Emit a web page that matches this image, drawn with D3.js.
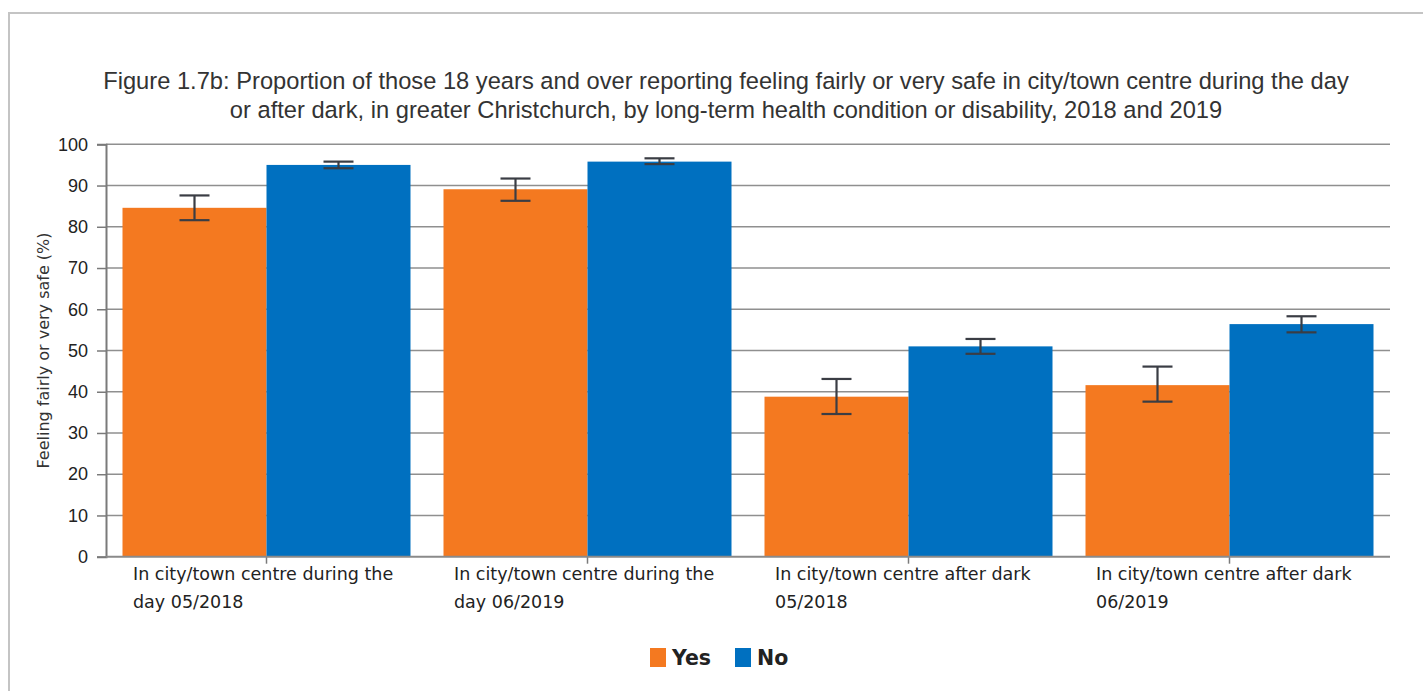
<!DOCTYPE html>
<html lang="en">
<head>
<meta charset="UTF-8">
<title>Figure 1.7b</title>
<script src="https://d3js.org/d3.v7.min.js"></script>
<style>
  body { margin: 0; background: #fff; }
  svg { display: block; }
</style>
</head>
<body>
<svg id="chart" width="1423" height="691"></svg>
<script>
// data
const categories = [
  ["In city/town centre during the", "day 05/2018"],
  ["In city/town centre during the", "day 06/2019"],
  ["In city/town centre after dark", "05/2018"],
  ["In city/town centre after dark", "06/2019"]
];
const seriesNames = ["Yes", "No"];
const yesValues = [84.6, 89.1, 38.8, 41.6];
const yesLow = [81.6, 86.3, 34.6, 37.6];
const yesHigh = [87.6, 91.7, 43.1, 46.1];
const noValues = [95.0, 95.8, 51.0, 56.4];
const noLow = [94.2, 95.2, 49.2, 54.4];
const noHigh = [95.8, 96.6, 52.8, 58.3];
const yTicks = [0, 10, 20, 30, 40, 50, 60, 70, 80, 90, 100];
const colors = ["#f47920", "#0070c0"];

const svg = d3.select("#chart");

// outer frame
svg.append("rect")
  .attr("x", 9).attr("y", 13)
  .attr("width", 1430).attr("height", 700)
  .attr("fill", "none").attr("stroke", "#c4c4c4").attr("stroke-width", 2);

const plotLeft = 106, plotRight = 1390, plotTop = 144.3, plotBottom = 556.7;

const x0 = d3.scaleBand().domain(d3.range(categories.length)).range([plotLeft, plotRight]);
const x1 = d3.scaleBand().domain([0, 1]).range([16.5, x0.bandwidth() - 16.5]);
const y = d3.scaleLinear().domain([0, 100]).range([plotBottom, plotTop]);

// title
const title = svg.append("text")
  .attr("text-anchor", "middle")
  .attr("font-family", "Liberation Sans, Arial, sans-serif")
  .attr("font-size", 23.7)
  .attr("fill", "#333");
title.append("tspan").attr("x", 726).attr("y", 89)
  .text("Figure 1.7b: Proportion of those 18 years and over reporting feeling fairly or very safe in city/town centre during the day");
title.append("tspan").attr("x", 726).attr("y", 118)
  .text("or after dark, in greater Christchurch, by long-term health condition or disability, 2018 and 2019");

// gridlines
svg.append("g")
  .selectAll("line")
  .data(yTicks.filter(d => d > 0))
  .join("line")
  .attr("x1", plotLeft).attr("x2", plotRight)
  .attr("y1", d => y(d)).attr("y2", d => y(d))
  .attr("stroke", "#8f8f8f").attr("stroke-width", 1.5);

// y axis
const yAxis = svg.append("g")
  .attr("transform", `translate(${plotLeft},0)`)
  .call(d3.axisLeft(y).tickValues(yTicks).tickSize(9).tickPadding(9));
yAxis.select(".domain").attr("stroke", "#7a7a7a").attr("stroke-width", 2);
yAxis.selectAll(".tick line").attr("stroke", "#7a7a7a").attr("stroke-width", 1.5);
yAxis.selectAll("text")
  .attr("font-family", "Liberation Sans, Arial, sans-serif")
  .attr("font-size", 18)
  .attr("fill", "#222");

svg.append("text")
  .attr("transform", `translate(49,${(plotTop + plotBottom) / 2}) rotate(-90)`)
  .attr("text-anchor", "middle")
  .attr("font-family", "DejaVu Sans, Verdana, sans-serif")
  .attr("font-size", 16)
  .attr("fill", "#333")
  .text("Feeling fairly or very safe (%)");

// bars
const series = [
  { vals: yesValues, lo: yesLow, hi: yesHigh },
  { vals: noValues, lo: noLow, hi: noHigh }
];
const groups = svg.append("g")
  .selectAll("g")
  .data(categories.map((c, i) => i))
  .join("g")
  .attr("transform", i => `translate(${x0(i)},0)`);

series.forEach((s, si) => {
  groups.append("rect")
    .attr("x", x1(si))
    .attr("width", x1.bandwidth())
    .attr("y", i => y(s.vals[i]))
    .attr("height", i => plotBottom - y(s.vals[i]))
    .attr("fill", colors[si]);
});

// x axis line + ticks
svg.append("line")
  .attr("x1", plotLeft).attr("x2", plotRight)
  .attr("y1", plotBottom).attr("y2", plotBottom)
  .attr("stroke", "#8a8a8a").attr("stroke-width", 2);
groups.append("line")
  .attr("x1", x0.bandwidth() / 2).attr("x2", x0.bandwidth() / 2)
  .attr("y1", plotBottom).attr("y2", plotBottom + 7)
  .attr("stroke", "#7a7a7a").attr("stroke-width", 1.5);

// error bars
series.forEach((s, si) => {
  const cx = x1(si) + x1.bandwidth() / 2;
  const eb = groups.append("g").attr("stroke", "#3a3d44").attr("stroke-width", 2.2);
  eb.append("line")
    .attr("x1", cx).attr("x2", cx)
    .attr("y1", i => y(s.hi[i])).attr("y2", i => y(s.lo[i]));
  eb.append("line")
    .attr("x1", cx - 15).attr("x2", cx + 15)
    .attr("y1", i => y(s.hi[i])).attr("y2", i => y(s.hi[i]));
  eb.append("line")
    .attr("x1", cx - 15).attr("x2", cx + 15)
    .attr("y1", i => y(s.lo[i])).attr("y2", i => y(s.lo[i]));
});

// category labels
groups.append("text")
  .attr("font-family", "DejaVu Sans, Verdana, sans-serif")
  .attr("font-size", 17.5)
  .attr("fill", "#222")
  .selectAll("tspan")
  .data(i => categories[i])
  .join("tspan")
  .attr("x", 27)
  .attr("y", (d, k) => 580 + k * 28)
  .text(d => d);

// legend
const legend = svg.append("g")
  .attr("font-family", "DejaVu Sans, Verdana, sans-serif")
  .attr("font-size", 20.5)
  .attr("font-weight", "bold")
  .attr("fill", "#222");
const legendX = [650, 735];
seriesNames.forEach((name, i) => {
  legend.append("rect")
    .attr("x", legendX[i]).attr("y", 648)
    .attr("width", 16).attr("height", 19)
    .attr("fill", colors[i]);
  legend.append("text")
    .attr("x", legendX[i] + 22).attr("y", 665)
    .text(name);
});
</script>
</body>
</html>
